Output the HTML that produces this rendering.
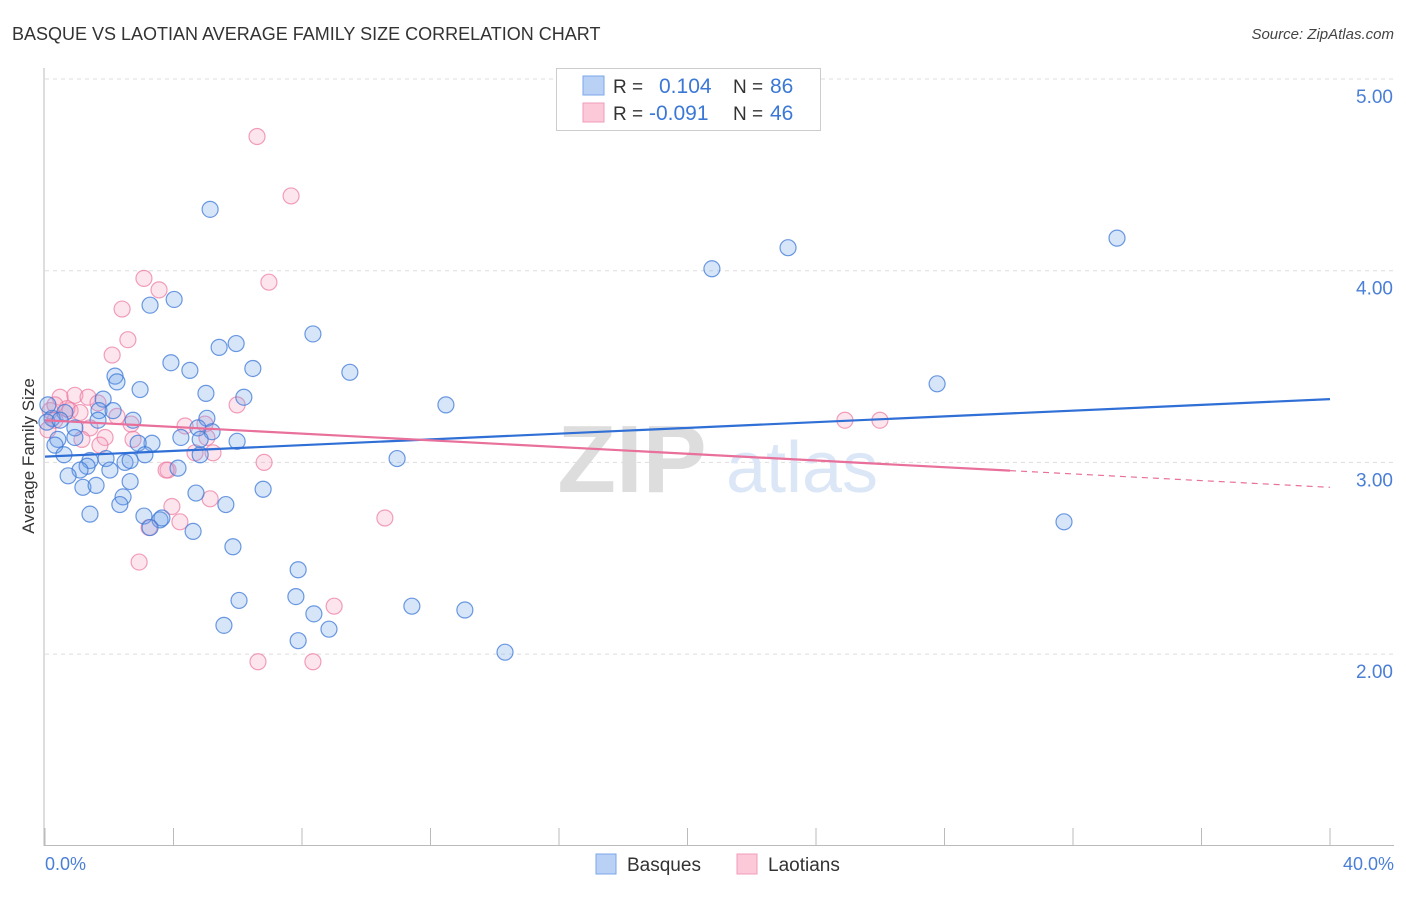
<!DOCTYPE html>
<html><head><meta charset="utf-8"><style>
body{margin:0;background:#fff;font-family:"Liberation Sans",sans-serif;}
svg text{font-family:"Liberation Sans",sans-serif;}
</style></head><body>
<svg id="chart" width="1406" height="892" viewBox="0 0 1406 892">
<text x="12" y="40" font-size="18" fill="#333">BASQUE VS LAOTIAN AVERAGE FAMILY SIZE CORRELATION CHART</text>
<text x="1394" y="39" font-size="15" fill="#444" text-anchor="end" font-style="italic">Source: ZipAtlas.com</text>
<g id="grid"></g>
<g>
<text x="632" y="492" font-size="96" fill="#ddd" font-family="Liberation Serif" text-anchor="middle" font-weight="bold">ZIP</text>
<text x="802" y="492" font-size="72" fill="#dbe6f7" text-anchor="middle">atlas</text>
</g>
<line x1="44" y1="68" x2="44" y2="846" stroke="#bbb"/>
<line x1="44" y1="845.5" x2="1394" y2="845.5" stroke="#bbb"/>
<g id="xticks"></g>
<g id="ylabels"></g>
<text x="45" y="870" font-size="18" fill="#4a7fd6">0.0%</text>
<text x="1394" y="870" font-size="18" fill="#4a7fd6" text-anchor="end">40.0%</text>
<text transform="translate(34,456) rotate(-90)" font-size="17" fill="#333" text-anchor="middle">Average Family Size</text>
<g id="pts"></g>
<g id="trends"></g>
<g>
<rect x="556.5" y="68.5" width="264" height="62" fill="#fff" stroke="#ccc"/>
<rect x="583" y="76" width="21" height="19" fill="#b9d1f5" stroke="#7aa7ea"/>
<rect x="583" y="103" width="21" height="19" fill="#fbc9d8" stroke="#f19bb8"/>
<text x="613" y="93" font-size="19" fill="#333">R =</text>
<text x="659" y="93" font-size="21" fill="#3b78d6">0.104</text>
<text x="733" y="93" font-size="19" fill="#333">N =</text>
<text x="770" y="93" font-size="21" fill="#3b78d6">86</text>
<text x="613" y="120" font-size="19" fill="#333">R =</text>
<text x="649" y="120" font-size="21" fill="#3b78d6">-0.091</text>
<text x="733" y="120" font-size="19" fill="#333">N =</text>
<text x="770" y="120" font-size="21" fill="#3b78d6">46</text>
</g>
<g>
<rect x="596" y="854" width="20" height="20" fill="#b9d1f5" stroke="#7aa7ea"/>
<text x="627" y="871" font-size="19" fill="#333">Basques</text>
</g>
<g>
<rect x="737" y="854" width="20" height="20" fill="#fbc9d8" stroke="#f19bb8"/>
<text x="768" y="871" font-size="19" fill="#333">Laotians</text>
</g>
</svg>
<script>
const yTicks=[2,3,4,5];
const yTickLabels=["2.00","3.00","4.00","5.00"];
const xTicks=[0,4,8,12,16,20,24,28,32,36,40];
const basqueX=[5.14,4.02,3.27,5.95,5.42,3.92,4.51,6.47,8.34,9.49,2.18,2.24,2.96,5.01,6.19,1.81,1.68,2.12,1.65,2.74,0.93,5.04,4.23,3.33,2.90,5.98,5.20,4.76,0.62,0.22,0.06,0.40,0.31,0.93,0.59,1.90,1.40,1.31,1.09,2.49,2.65,2.02,4.14,4.83,0.72,1.18,1.59,2.65,2.43,2.33,4.70,5.63,6.79,1.40,3.08,3.58,3.64,3.27,4.61,5.85,7.88,6.04,7.81,8.37,5.57,7.88,8.84,11.42,13.07,14.32,10.96,12.48,20.76,23.13,33.37,27.77,31.72,0.09,0.47,4.83,3.11];
const basqueY=[4.32,3.85,3.82,3.62,3.60,3.52,3.48,3.49,3.67,3.47,3.45,3.42,3.38,3.36,3.34,3.33,3.27,3.27,3.22,3.22,3.18,3.23,3.13,3.10,3.10,3.11,3.16,3.18,3.26,3.23,3.21,3.12,3.09,3.13,3.04,3.02,3.01,2.98,2.96,3.00,3.01,2.96,2.97,3.04,2.93,2.87,2.88,2.90,2.82,2.78,2.84,2.78,2.86,2.73,2.72,2.70,2.71,2.66,2.64,2.56,2.44,2.28,2.30,2.21,2.15,2.07,2.13,2.25,2.23,2.01,3.02,3.30,4.01,4.12,4.17,3.41,2.69,3.30,3.22,3.12,3.04];
const laoX=[6.60,7.66,3.08,6.97,3.55,2.40,2.58,2.09,0.47,0.93,1.34,1.65,0.78,0.68,0.16,0.31,0.09,2.24,4.36,4.98,2.68,1.40,1.15,1.87,2.74,5.04,5.98,4.67,5.23,6.82,3.83,3.77,5.14,3.95,4.20,3.24,10.58,2.93,9.00,6.63,8.34,24.90,25.99,0.31,1.09,1.71];
const laoY=[4.70,4.39,3.96,3.94,3.90,3.80,3.64,3.56,3.34,3.35,3.34,3.31,3.27,3.28,3.27,3.22,3.17,3.24,3.19,3.20,3.20,3.18,3.12,3.13,3.12,3.13,3.30,3.05,3.05,3.00,2.96,2.96,2.81,2.77,2.69,2.66,2.71,2.48,2.25,1.96,1.96,3.22,3.22,3.30,3.26,3.09];
const basqueTrend=[3.03,3.33];
const laoTrend=[3.22,2.87];
const laoSolidEnd=30.04;

const NS="http://www.w3.org/2000/svg";
const sx=v=>45+v/40*1285;
const sy=v=>79+(5-v)*191.7;
function mk(tag,attrs,parent){const e=document.createElementNS(NS,tag);for(const k in attrs)e.setAttribute(k,attrs[k]);parent.appendChild(e);return e;}
const grid=document.getElementById('grid'),yl=document.getElementById('ylabels'),xt=document.getElementById('xticks');
yTicks.forEach((t,i)=>{
  const l=mk('line',{x1:45,x2:1394,y1:sy(t),y2:sy(t),stroke:'#ddd','stroke-dasharray':'4,4'},grid);
  
  
  const tx=mk('text',{x:1393,y:sy(t)+24,'font-size':19,fill:'#4a7fd6','text-anchor':'end'},yl);
  tx.textContent=yTickLabels[i];
  
  
});
xTicks.forEach(t=>{
  const l=mk('line',{x1:sx(t),x2:sx(t),y1:828,y2:846,stroke:'#bbb'},xt);
  
  
});
const pts=document.getElementById('pts');
function draw(X,Y,fill,stroke,name){
  X.forEach((x,i)=>{
    const c=mk('circle',{cx:sx(x),cy:sy(Y[i]),r:8,fill:fill,stroke:stroke,'stroke-width':1.2},pts);
    
    
  });
}
draw(laoX,laoY,'rgba(244,160,190,0.28)','rgba(236,120,160,0.7)','laotian-point');
draw(basqueX,basqueY,'rgba(110,160,235,0.28)','rgba(60,120,215,0.75)','basque-point');
const tr=document.getElementById('trends');
const b=mk('line',{x1:sx(0),y1:sy(basqueTrend[0]),x2:sx(40),y2:sy(basqueTrend[1]),stroke:'#2f6fd6','stroke-width':2.2},tr);


const midY=laoTrend[0]+(laoTrend[1]-laoTrend[0])*laoSolidEnd/40;
const p1=mk('line',{x1:sx(0),y1:sy(laoTrend[0]),x2:sx(laoSolidEnd),y2:sy(midY),stroke:'#e8709a','stroke-width':2.2},tr);


const p2=mk('line',{x1:sx(laoSolidEnd),y1:sy(midY),x2:sx(40),y2:sy(laoTrend[1]),stroke:'#e8709a','stroke-width':1.2,'stroke-dasharray':'6,5'},tr);


</script>
</body></html>
